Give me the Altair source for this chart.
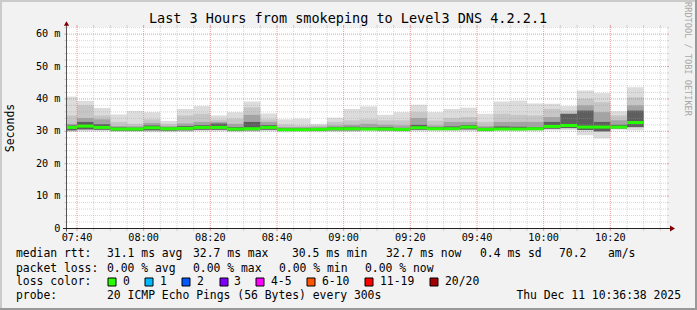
import altair as alt
import pandas as pd

# ------------------------------------------------------------------ data
bin_end = ["07:40", "07:45", "07:50", "07:55", "08:00", "08:05", "08:10", "08:15", "08:20", "08:25",
           "08:30", "08:35", "08:40", "08:45", "08:50", "08:55", "09:00", "09:05", "09:10", "09:15",
           "09:20", "09:25", "09:30", "09:35", "09:40", "09:45", "09:50", "09:55", "10:00", "10:05",
           "10:10", "10:15", "10:20", "10:25", "10:30"]

rtt_max = [40.7, 39.4, 37.2, 35.2, 36.3, 35.9, 33.2, 36.9, 37.8, 34.9,
           35.9, 39.2, 35.5, 33.7, 33.9, 32.3, 34.2, 36.9, 37.7, 35.1,
           35.9, 38.2, 35.9, 36.9, 37.3, 35.4, 39.2, 39.5, 38.6, 38.5,
           37.8, 42.6, 41.8, 36.2, 43.6]
rtt_q2 = [34.9, 38.0, 34.9, 32.9, 32.3, 33.7, 32.3, 34.9, 35.4, 33.6,
          33.9, 37.4, 33.7, 32.1, 31.8, 31.8, 32.9, 33.4, 33.7, 33.4,
          33.4, 35.9, 33.3, 34.1, 34.4, 32.9, 35.4, 35.1, 34.9, 36.9,
          36.4, 40.0, 39.0, 34.9, 40.5]
rtt_q3 = [32.3, 34.1, 33.7, 31.6, 31.6, 32.6, 31.6, 32.4, 32.9, 32.9,
          32.3, 35.1, 32.9, 31.3, 31.3, 31.4, 31.8, 32.0, 32.3, 32.0,
          31.8, 34.1, 31.8, 32.9, 32.9, 31.6, 32.9, 32.9, 32.9, 34.4,
          35.4, 38.0, 35.9, 33.4, 38.0]
rtt_core = [31.8, 32.9, 32.2, 31.2, 31.1, 31.8, 31.2, 31.6, 31.9, 32.4,
            31.3, 32.9, 31.9, 30.9, 30.9, 31.0, 31.3, 31.4, 31.2, 31.3,
            31.0, 32.0, 31.3, 31.5, 31.9, 31.1, 31.5, 31.4, 31.3, 32.9,
            35.4, 36.4, 32.9, 32.0, 36.4]
rtt_median = [31.2, 31.6, 31.2, 30.7, 30.7, 31.1, 30.8, 30.9, 31.2, 31.2,
              30.7, 30.8, 31.2, 30.5, 30.5, 30.6, 30.8, 30.8, 30.7, 30.7,
              30.6, 31.1, 30.8, 30.8, 31.3, 30.6, 30.7, 30.7, 30.8, 31.5,
              31.8, 31.3, 31.3, 31.3, 32.7]
rtt_lo = [30.3, 30.6, 30.5, 30.2, 30.2, 30.3, 30.2, 30.3, 30.5, 30.5,
          30.2, 30.3, 30.5, 30.1, 30.2, 30.1, 30.3, 30.3, 30.4, 30.3,
          30.2, 30.5, 30.4, 30.4, 30.6, 30.2, 30.4, 30.4, 30.4, 30.8,
          31.0, 30.4, 30.0, 30.9, 31.3]
rtt_min = [29.8, 30.0, 30.0, 29.8, 29.8, 29.7, 29.7, 29.8, 30.0, 30.0,
           29.7, 29.8, 30.0, 29.7, 29.8, 29.7, 29.8, 29.8, 30.0, 29.9,
           29.8, 30.0, 30.0, 30.0, 30.0, 29.8, 30.0, 30.0, 30.0, 30.3,
           30.4, 28.8, 27.8, 30.5, 30.3]

x_tick_labels = ["07:40", "08:00", "08:20", "08:40", "09:00", "09:20", "09:40", "10:00", "10:20"]
y_tick_values = [0, 10, 20, 30, 40, 50, 60]
y_tick_labels = ["0", "10 m", "20 m", "30 m", "40 m", "50 m", "60 m"]

title_text = "Last 3 Hours from smokeping to Level3 DNS 4.2.2.1"
unit_text = "Seconds"
watermark = "RRDTOOL / TOBI OETIKER"
legend_rows = [
    ["median rtt:", "31.1 ms avg", "32.7 ms max", "30.5 ms min", "32.7 ms now", "0.4 ms sd", "70.2", "am/s"],
    ["packet loss:", "0.00 % avg", "0.00 % max", "0.00 % min", "0.00 % now"],
    ["loss color:"],
    ["probe:", "20 ICMP Echo Pings (56 Bytes) every 300s"],
]
stamp_text = "Thu Dec 11 10:36:38 2025"
loss_labels = ["0", "1", "2", "3", "4-5", "6-10", "11-19", "20/20"]
loss_colors = ["#26ff00", "#00b8ff", "#0059ff", "#7e00ff", "#ff00ff", "#ff5500", "#ff0000", "#a10000"]

# ------------------------------------------------------------------ layout (pixels)
STEP_MIN = 5           # 300 s step
T0, T1 = 37, 217       # minutes after 07:00 shown
PX0, PX1 = 67, 667
PY0, PY1 = 228.5, 27
YMAX = 62.2
legend_x = [[16, 107, 193, 292, 386, 480, 559, 608],
            [16, 107, 193, 279, 365],
            [16],
            [16, 107]]
legend_y = [254, 268.5, 282, 296]
loss_box_x = [112, 149, 186, 224, 260, 311, 369, 434]
loss_text_x = [123, 160, 197, 234, 271, 322, 380, 445]
FONT = "DejaVu Sans Mono"


def to_min(s):
    h, m = s.split(":")
    return (int(h) - 7) * 60 + int(m)


df = pd.DataFrame({
    "end": [to_min(t) for t in bin_end],
    "rmin": rtt_min, "rlo": rtt_lo, "rmed": rtt_median, "rcore": rtt_core,
    "rq3": rtt_q3, "rq2": rtt_q2, "rmax": rtt_max,
})
df["start"] = (df["end"] - STEP_MIN).clip(lower=T0)

xs = alt.Scale(domain=[T0, T1], range=[PX0, PX1], nice=False, zero=False)
ys = alt.Scale(domain=[0, YMAX], range=[PY0, PY1], nice=False, zero=False)
one = pd.DataFrame({"k": [0]})

layers = []

# plot canvas
layers.append(alt.Chart(one).mark_rect(color="white").encode(
    x=alt.value(PX0), x2=alt.value(PX1), y=alt.value(PY1), y2=alt.value(PY0)))


def smoke(lo, hi, color):
    return alt.Chart(df).mark_rect(color=color).encode(
        x=alt.X("start:Q", scale=xs, axis=None), x2="end:Q",
        y=alt.Y(f"{lo}:Q", scale=ys, axis=None), y2=f"{hi}:Q")


layers += [smoke("rmin", "rmax", "#dcdcdc"),
           smoke("rlo", "rq2", "#c6c6c6"),
           smoke("rlo", "rq3", "#a4a4a4"),
           smoke("rlo", "rcore", "#5e5e5e")]

layers.append(alt.Chart(df).mark_rule(color=loss_colors[0], strokeWidth=3).encode(
    x=alt.X("start:Q", scale=xs, axis=None), x2="end:Q",
    y=alt.Y("rmed:Q", scale=ys, axis=None)))

# grid
major_x = [to_min(t) for t in x_tick_labels]
minor_x = [m for m in range(40, T1, 5) if m not in major_x]
major_y = [10, 20, 30, 40, 50, 60]
minor_y = [v for v in range(2, 63, 2) if v not in major_y]

GRID, MGRID = "#9a9a9a", "#e06a6a"


def vgrid(vals, color, op):
    d = pd.DataFrame({"m": vals})
    dotted = alt.Chart(d).mark_rule(color=color, opacity=op, strokeDash=[1, 1]).encode(
        x=alt.X("m:Q", scale=xs, axis=None), y=alt.value(PY1), y2=alt.value(PY0))
    top = alt.Chart(d).mark_rule(color=color, opacity=op).encode(
        x=alt.X("m:Q", scale=xs, axis=None), y=alt.value(PY1 - 2), y2=alt.value(PY1))
    bot = alt.Chart(d).mark_rule(color=color, opacity=op).encode(
        x=alt.X("m:Q", scale=xs, axis=None), y=alt.value(PY0), y2=alt.value(PY0 + 2.5))
    return [dotted, top, bot]


def hgrid(vals, color, op):
    d = pd.DataFrame({"v": vals})
    dotted = alt.Chart(d).mark_rule(color=color, opacity=op, strokeDash=[1, 1]).encode(
        y=alt.Y("v:Q", scale=ys, axis=None), x=alt.value(PX0), x2=alt.value(PX1))
    left = alt.Chart(d).mark_rule(color=color, opacity=op).encode(
        y=alt.Y("v:Q", scale=ys, axis=None), x=alt.value(PX0 - 2.5), x2=alt.value(PX0))
    right = alt.Chart(d).mark_rule(color=color, opacity=op).encode(
        y=alt.Y("v:Q", scale=ys, axis=None), x=alt.value(PX1), x2=alt.value(PX1 + 2))
    return [dotted, left, right]


layers += vgrid(minor_x, GRID, 0.4) + hgrid(minor_y, GRID, 0.4)
layers += vgrid(major_x, MGRID, 0.65) + hgrid(major_y, MGRID, 0.65)

# axes + arrows
layers.append(alt.Chart(one).mark_rule(color="#555555").encode(
    x=alt.value(PX0 - 0.5), y=alt.value(PY0 + 3), y2=alt.value(PY1 - 2)))
layers.append(alt.Chart(one).mark_rule(color="#222222").encode(
    y=alt.value(PY0), x=alt.value(PX0 - 4), x2=alt.value(PX1 + 4)))
layers.append(alt.Chart(one).mark_point(shape="triangle-up", filled=True, size=28,
                                        color="#800000", opacity=1).encode(
    x=alt.value(PX0 - 0.5), y=alt.value(PY1 - 3.5)))
layers.append(alt.Chart(one).mark_point(shape="triangle-right", filled=True, size=34,
                                        color="#800000", opacity=1).encode(
    x=alt.value(PX1 + 5.5), y=alt.value(PY0)))

# tick labels
layers.append(alt.Chart(pd.DataFrame({"m": major_x, "t": x_tick_labels})).mark_text(
    font=FONT, fontSize=10.2, color="#000000", baseline="middle", align="center").encode(
    x=alt.X("m:Q", scale=xs, axis=None), y=alt.value(238), text="t:N"))
layers.append(alt.Chart(pd.DataFrame({"v": y_tick_values, "t": y_tick_labels})).mark_text(
    font=FONT, fontSize=10.2, color="#000000", baseline="middle", align="right").encode(
    y=alt.Y("v:Q", scale=ys, axis=None), x=alt.value(60.5), text="t:N"))

# free texts
layers.append(alt.Chart(one).mark_text(
    text=title_text, font=FONT, fontSize=13.5, color="#000000", align="center", baseline="middle").encode(
    x=alt.value(348), y=alt.value(19)))
layers.append(alt.Chart(one).mark_text(
    text=unit_text, font=FONT, fontSize=11.5, color="#000000", align="center", baseline="middle",
    angle=270).encode(x=alt.value(10.5), y=alt.value(128)))
layers.append(alt.Chart(one).mark_text(
    text=watermark, font=FONT, fontSize=8.6, color="#a8a8a8", align="center", baseline="middle",
    angle=90).encode(x=alt.value(688), y=alt.value(59)))

rows = []
for r, (texts, xsx) in enumerate(zip(legend_rows, legend_x)):
    for t, px in zip(texts, xsx):
        rows.append({"t": t, "px": px, "py": legend_y[r]})
for t, px in zip(loss_labels, loss_text_x):
    rows.append({"t": t, "px": px, "py": legend_y[2]})
leg = pd.DataFrame(rows)
layers.append(alt.Chart(leg).mark_text(
    font=FONT, fontSize=11.4, color="#000000", align="left", baseline="middle").encode(
    x=alt.X("px:Q", scale=None, axis=None), y=alt.Y("py:Q", scale=None, axis=None), text="t:N"))
layers.append(alt.Chart(one).mark_text(
    text=stamp_text, font=FONT, fontSize=11.4, color="#000000", align="right", baseline="middle").encode(
    x=alt.value(681), y=alt.value(legend_y[3])))

boxes = pd.DataFrame({"px": loss_box_x, "c": loss_colors, "l": loss_labels})
layers.append(alt.Chart(boxes).mark_square(size=64, stroke="#000000", strokeWidth=1, opacity=1).encode(
    x=alt.X("px:Q", scale=None, axis=None), y=alt.value(legend_y[2]),
    fill=alt.Fill("c:N", scale=None, legend=None)))

# 3d border
layers.append(alt.Chart(one).mark_rule(color="#cbcbcb", strokeWidth=2).encode(
    x=alt.value(0), x2=alt.value(697), y=alt.value(1)))
layers.append(alt.Chart(one).mark_rule(color="#cbcbcb", strokeWidth=2).encode(
    x=alt.value(1), y=alt.value(0), y2=alt.value(310)))
layers.append(alt.Chart(one).mark_rule(color="#999999", strokeWidth=2).encode(
    x=alt.value(0), x2=alt.value(697), y=alt.value(309)))
layers.append(alt.Chart(one).mark_rule(color="#999999", strokeWidth=2).encode(
    x=alt.value(696), y=alt.value(0), y2=alt.value(310)))

chart = alt.layer(*layers).resolve_scale(
    x="independent", y="independent"
).properties(
    width=697, height=310, padding=0, autosize="none", background="#f2f2f2"
).configure_view(stroke=None)

chart.save("out.html", embed_options={"renderer": "svg", "actions": False})
